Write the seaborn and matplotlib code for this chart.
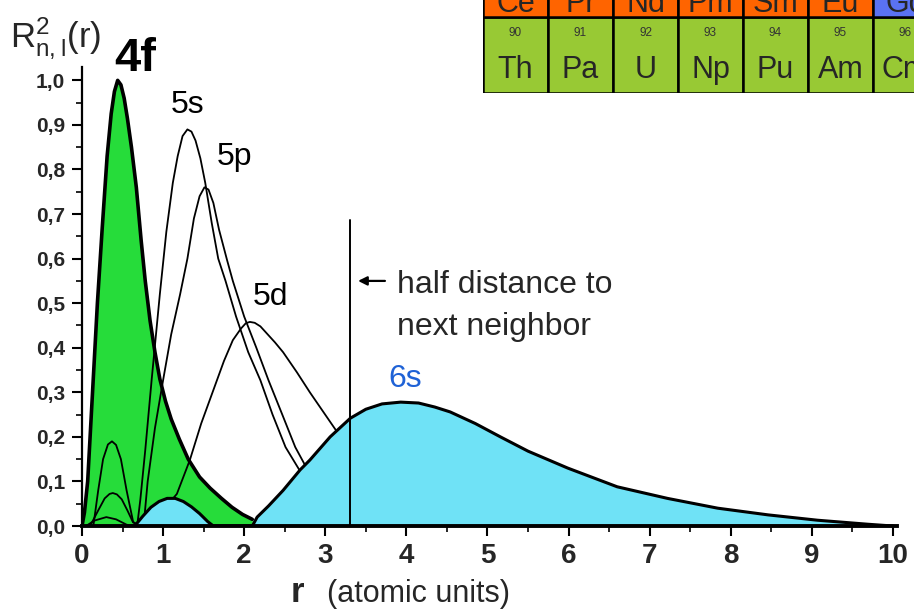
import matplotlib.pyplot as plt
from matplotlib.patches import Rectangle
import seaborn as sns
import pandas as pd

sns.set_style('ticks')
plt.rcParams['font.family'] = ['Liberation Sans', 'DejaVu Sans']
plt.rcParams['mathtext.fontset'] = 'custom'
plt.rcParams['mathtext.rm'] = 'Liberation Sans'
plt.rcParams['mathtext.bf'] = 'Liberation Sans:bold'

# radial densities (r in atomic units)
r_4f = [0.0, 0.03, 0.07, 0.13, 0.19, 0.25, 0.31, 0.36, 0.40, 0.44, 0.48, 0.52, 0.56,
        0.61, 0.67, 0.73, 0.78, 0.84, 0.9, 0.96, 1.03, 1.1, 1.2, 1.31, 1.45, 1.58,
        1.72, 1.85, 1.98, 2.1]
v_4f = [0.0, 0.03, 0.10, 0.30, 0.50, 0.67, 0.83, 0.925, 0.975, 1.0, 0.99, 0.96, 0.915,
        0.85, 0.76, 0.64, 0.55, 0.46, 0.39, 0.33, 0.28, 0.24, 0.195, 0.15, 0.11, 0.085,
        0.062, 0.042, 0.026, 0.015]

r_5s = [0.0, 0.14, 0.2, 0.26, 0.32, 0.37, 0.42, 0.48, 0.55, 0.63, 0.68, 0.72, 0.78,
        0.86, 0.96, 1.04, 1.12, 1.18, 1.24, 1.3, 1.35, 1.4, 1.46, 1.52, 1.6, 1.68, 1.77,
        1.9, 2.05, 2.2, 2.35, 2.51, 2.7]
v_5s = [0.0, 0.0, 0.08, 0.15, 0.183, 0.19, 0.182, 0.15, 0.08, 0.01, 0.0, 0.06, 0.17,
        0.33, 0.52, 0.66, 0.77, 0.83, 0.875, 0.89, 0.885, 0.865, 0.825, 0.77, 0.68, 0.6, 0.55,
        0.47, 0.39, 0.327, 0.25, 0.177, 0.12]

r_5p = [0.0, 0.1, 0.2, 0.28, 0.34, 0.38, 0.43, 0.49, 0.56, 0.63, 0.76, 0.81, 0.9, 1.0,
        1.1, 1.21, 1.3, 1.38, 1.45, 1.51, 1.56, 1.62, 1.69, 1.79, 1.86, 2.0, 2.15, 2.3,
        2.47, 2.63, 2.8]
v_5p = [0.0, 0.0, 0.035, 0.062, 0.072, 0.074, 0.071, 0.06, 0.035, 0.008, 0.0, 0.1, 0.22,
        0.327, 0.43, 0.52, 0.6, 0.69, 0.74, 0.76, 0.755, 0.725, 0.665, 0.596, 0.55, 0.47,
        0.4, 0.327, 0.25, 0.177, 0.12]

r_5d = [0.0, 0.05, 0.15, 0.3, 0.42, 0.55, 0.62, 0.8, 0.95, 1.09, 1.17, 1.33, 1.47, 1.62,
        1.75, 1.86, 1.96, 2.02, 2.07, 2.13, 2.2, 2.28, 2.38, 2.48, 2.65, 2.81, 2.98, 3.15]
v_5d = [0.0, 0.0, 0.012, 0.02, 0.015, 0.003, 0.0, 0.015, 0.04, 0.055, 0.072, 0.148, 0.23,
        0.305, 0.37, 0.417, 0.443, 0.455, 0.458, 0.456, 0.448, 0.432, 0.412, 0.39, 0.345,
        0.3, 0.255, 0.21]

r_6s = [0.6, 0.65, 0.75, 0.85, 0.95, 1.05, 1.15, 1.25, 1.35, 1.45, 1.55, 1.62, 2.1, 2.16,
        2.3, 2.48, 2.69, 2.81, 3.06, 3.31, 3.5, 3.7, 3.93, 4.15, 4.35, 4.54, 4.85, 5.16,
        5.5, 5.99, 6.6, 7.22, 7.84, 8.46, 9.07, 9.69, 10.0]
v_6s = [0.0, 0.0, 0.022, 0.042, 0.055, 0.062, 0.062, 0.055, 0.043, 0.028, 0.01, 0.0, 0.0,
        0.02, 0.045, 0.08, 0.126, 0.148, 0.2, 0.242, 0.262, 0.274, 0.278, 0.276, 0.267,
        0.256, 0.23, 0.2, 0.168, 0.13, 0.088, 0.062, 0.04, 0.025, 0.013, 0.004, 0.0]

# curve labels: text, r, value (baseline), size, colour, weight
labels = [('4f', 0.65, 1.022, 34, 'black', 'bold'),
          ('5s', 1.30, 0.926, 23, 'black', 'normal'),
          ('5p', 1.88, 0.81, 23, 'black', 'normal'),
          ('5d', 2.32, 0.496, 23, 'black', 'normal'),
          ('6s', 3.99, 0.312, 23, '#1f62d6', 'normal')]

r_half = 3.3
note_lines = ['half distance to', 'next neighbor']

xticks = list(range(0, 11))
yticks = [0.0, 0.1, 0.2, 0.3, 0.4, 0.5, 0.6, 0.7, 0.8, 0.9, 1.0]

# periodic table strip
sym_low = ['Th', 'Pa', 'U', 'Np', 'Pu', 'Am', 'Cm']
num_low = [90, 91, 92, 93, 94, 95, 96]
sym_up = ['Ce', 'Pr', 'Nd', 'Pm', 'Sm', 'Eu', 'Gd']
col_up = ['#ff6400', '#ff6400', '#ff6400', '#ff6400', '#ff6400', '#ff6400', '#5a72f2']

GREEN = '#26dc3a'
CYAN = '#6fe2f6'

fig = plt.figure(figsize=(9.14, 6.13), dpi=100)
ax = fig.add_axes([0.0897, 0.1419, 0.8917, 0.7488])


def draw(r, v, lw, z):
    df = pd.DataFrame({'r': r, 'v': v})
    sns.lineplot(data=df, x='r', y='v', ax=ax, color='black', linewidth=lw,
                 sort=False, estimator=None, zorder=z)
    ax.lines[-1].set_solid_joinstyle('round')


ax.fill_between(r_4f, v_4f, 0, color=GREEN, lw=0, zorder=1)
draw(r_5s, v_5s, 1.3, 2)
draw(r_5p, v_5p, 1.3, 2)
draw(r_5d, v_5d, 1.3, 2)
draw(r_4f, v_4f, 2.6, 3)
ax.fill_between(r_6s, v_6s, 0, color=CYAN, lw=0, zorder=4)
draw(r_6s, v_6s, 2.2, 5)

ax.plot([r_half, r_half], [0, 0.686], color='black', lw=1.4, zorder=6)
ax.annotate('', xy=(r_half + 0.07, 0.55), xytext=(r_half + 0.47, 0.55),
            arrowprops=dict(arrowstyle='-|>', color='black', lw=1.6, mutation_scale=13))
for i, line in enumerate(note_lines):
    ax.text(r_half + 0.59, 0.522 - i * 0.094, line, fontsize=23, va='baseline', ha='left')

for txt, x, y, fs, c, w in labels:
    ax.text(x, y, txt, fontsize=fs, color=c, fontweight=w, ha='center', va='baseline',
            clip_on=False)

ax.set_xlim(0, 10.05)
ax.set_ylim(0, 1.03)
ax.set_xlabel('')
ax.set_ylabel('')
ax.set_xticks(xticks)
ax.set_xticklabels([str(t) for t in xticks], fontsize=20, fontweight='bold')
ax.set_xticks([t + 0.5 for t in xticks[:-1]], minor=True)
ax.set_yticks(yticks)
ax.set_yticklabels([f'{t:.1f}'.replace('.', ',') for t in yticks], fontsize=15,
                   fontweight='bold')
ax.set_yticks([t + 0.05 for t in yticks[:-1]], minor=True)
ax.tick_params(axis='both', which='major', direction='out', length=7, width=1.5, color='black')
ax.tick_params(axis='both', which='minor', direction='out', length=4, width=1.2, color='black')
ax.tick_params(axis='x', pad=5)
ax.tick_params(axis='y', pad=5)
sns.despine(ax=ax)
ax.spines['bottom'].set_linewidth(2.8)
ax.spines['left'].set_linewidth(1.6)
ax.spines['bottom'].set_zorder(7)
ax.spines['left'].set_zorder(7)
for s in ['bottom', 'left']:
    ax.spines[s].set_color('black')

fig.text(10 / 914, 1 - 47 / 613, r'$\mathregular{R^{2}_{n,l}}$(r)', fontsize=25,
         va='baseline', ha='left')
fig.text(297 / 914, 1 - 602 / 613, 'r', fontsize=25, fontweight='bold',
         va='baseline', ha='center')
fig.text(327 / 914, 1 - 602 / 613, '(atomic units)', fontsize=22,
         va='baseline', ha='left')

# periodic table corner, partly outside the figure as in the source picture
pt = fig.add_axes([483 / 914, (613 - 93) / 613, 455 / 914, 152 / 613])
pt.set_xlim(0, 7)
pt.set_ylim(0, 2)
pt.axis('off')
for i in range(len(sym_low)):
    pt.add_patch(Rectangle((i, 0), 1, 1, facecolor='#98c934', edgecolor='black', lw=1.8))
    pt.add_patch(Rectangle((i, 1), 1, 1, facecolor=col_up[i], edgecolor='black', lw=1.8))
    pt.text(i + 0.5, 0.197, sym_low[i], fontsize=22, ha='center', va='baseline')
    pt.text(i + 0.5, 0.79, str(num_low[i]), fontsize=8.5, ha='center', va='center',
            color='#333333')
    pt.text(i + 0.5, 1.066, sym_up[i], fontsize=22, ha='center', va='baseline')

fig.savefig('out.png', dpi=100)
